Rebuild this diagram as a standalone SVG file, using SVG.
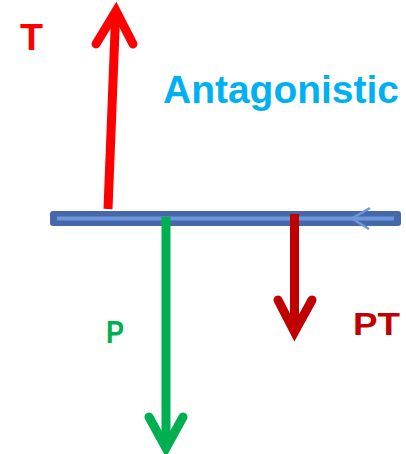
<svg xmlns="http://www.w3.org/2000/svg" width="406" height="454" viewBox="0 0 406 454">
<style>
.lbl{font-family:"Liberation Sans",Arial,sans-serif;font-weight:bold}
.shaft{fill:none;stroke-width:9}
.head{fill:none;stroke-width:9;stroke-linecap:round;stroke-linejoin:miter}
</style>
<g id="bar">
<rect x="50" y="211" width="351" height="15" rx="3" fill="#4667a8"/>
<line x1="57" y1="218.5" x2="394" y2="218.5" stroke="#6d97dc" stroke-width="4"/>
<path d="M370 208 L352 218.5 L369 229" fill="none" stroke="#6d97dc" stroke-width="2.5"/>
</g>
<g id="connectors">
<g id="arrow-T"><path class="shaft" stroke="#ff0000" d="M108 209 L115.5 18"/><path class="head" stroke="#ff0000" d="M96 44 L116 11 L133 44"/></g>
<g id="arrow-P"><path class="shaft" stroke="#00b050" d="M166 217 L166 445"/><path class="head" stroke="#00b050" d="M149 417 L166 448 L183 417"/></g>
<g id="arrow-PT"><path class="shaft" stroke="#c00000" d="M294.5 214 L294.5 328"/><path class="head" stroke="#c00000" d="M278 300 L294.5 332 L312 300"/></g>
</g>
<g id="label-T"><text class="lbl" x="20" y="50" font-size="37" fill="#ff0000" textLength="23" lengthAdjust="spacingAndGlyphs">T</text></g>
<g id="label-Antagonistic"><text class="lbl" x="163" y="103" font-size="39.5" fill="#00b0f0" textLength="236" lengthAdjust="spacingAndGlyphs">Antagonistic</text></g>
<g id="label-P"><text class="lbl" x="106" y="343" font-size="31" fill="#00b050" textLength="18" lengthAdjust="spacingAndGlyphs">P</text></g>
<g id="label-PT"><text class="lbl" x="353" y="335" font-size="32" fill="#c00000" textLength="47" lengthAdjust="spacingAndGlyphs">PT</text></g>
</svg>
